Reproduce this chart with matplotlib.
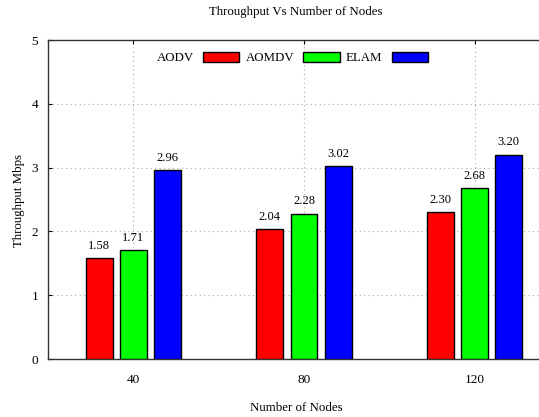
import numpy as np
import matplotlib.pyplot as plt

plt.rcParams['font.family'] = ['Liberation Serif', 'DejaVu Serif']

nodes = [40, 80, 120]
series = ['AODV', 'AOMDV', 'ELAM']
aodv = [1.58, 2.04, 2.30]
aomdv = [1.71, 2.28, 2.68]
elam = [2.96, 3.02, 3.20]
colors = ['#ff0000', '#00ff00', '#0000ff']

fig = plt.figure(figsize=(5.39, 4.17), dpi=100)
ax = fig.add_axes([0.089, 0.139, 0.95, 0.765])

x = np.array(nodes, dtype=float)
offs = [-8, 0, 8]
width = 6.3
for vals, name, c, o in zip([aodv, aomdv, elam], series, colors, offs):
    bars = ax.bar(x + o, vals, width, color=c, edgecolor='black', linewidth=1.0,
                  label=name, zorder=3)
    for b, v in zip(bars, vals):
        ax.text(b.get_x() + b.get_width() / 2, v + 0.1, '%.2f' % v,
                ha='center', va='bottom', fontsize=9)

ax.set_xlim(20, 140)
ax.set_ylim(0, 5)
ax.set_xticks(nodes)
ax.set_yticks([0, 1, 2, 3, 4, 5])
ax.grid(True, linestyle=(0, (1, 3)), color='#aaaaaa', linewidth=0.8, zorder=0)
ax.tick_params(axis='both', direction='in', labelsize=9.5, top=True, length=3)
ax.tick_params(axis='x', pad=11)
ax.tick_params(axis='y', pad=7)
for s in ax.spines.values():
    s.set_linewidth(1.0)
    s.set_color('#333333')

fig.text(296 / 539, 1 - 12 / 417, 'Throughput Vs Number of Nodes', fontsize=9.3,
         ha='center', va='center')
fig.text(296 / 539, 1 - 408 / 417, 'Number of Nodes', fontsize=9.3,
         ha='center', va='center')
fig.text(19 / 539, 1 - 200 / 417, 'Throughput Mbps', fontsize=9.3,
         ha='center', va='center', rotation=90)

leg = ax.legend(loc='upper left', bbox_to_anchor=(0.19, 1.0), ncol=3, frameon=False,
                markerfirst=False, fontsize=9.3, handlelength=2.8, handleheight=0.9,
                columnspacing=0.5, handletextpad=0.7)

plt.savefig('out.png', dpi=100)
